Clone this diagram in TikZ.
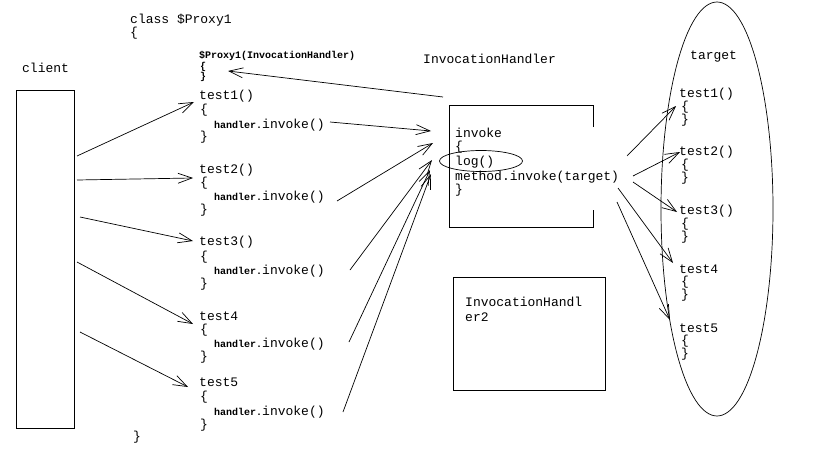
\documentclass[tikz,border=0pt]{standalone}
\usepackage{fontspec}
\setmonofont{Liberation Mono}
\usetikzlibrary{arrows.meta,shapes.geometric}
\begin{document}
\begin{tikzpicture}[x=1pt,y=-1pt,
  txt/.style={anchor=west,inner sep=0pt,font=\fontsize{13}{13}\selectfont\ttfamily},
  sml/.style={anchor=west,inner sep=0pt,font=\fontsize{10}{10}\selectfont\ttfamily\bfseries},
  arr/.style={-{Straight Barb[length=14pt,width=10pt]},line width=0.7pt},
  ln/.style={line width=0.7pt}]
\useasboundingbox (0,0) rectangle (820,455);
% client
\node[txt] (clientlbl) at (22,68) {client};
\node[draw,ln,minimum width=58,minimum height=338,inner sep=0pt,anchor=north west] (client) at (16,90) {};
% class $Proxy1
\node[txt] (cls) at (130,20) {class \$Proxy1};
\node[txt] (clso) at (130,33) {\{};
\node[txt] (clsc) at (133,437) {\}};
\node[sml] (ctor) at (199,56) {\$Proxy1(InvocationHandler)};
\node[sml] (ctoro) at (200,67) {\{};
\node[sml] (ctorc) at (200,77) {\}};
\foreach \i/\nm/\ya/\yb/\yc/\yd in {1/test1()/96/110/125/137,2/test2()/170/183/197/210,3/test3()/242/257/271/284,4/test4/316/330/344/357,5/test5/382/397/412/425}{
  \node[txt] (t\i) at (199,\ya) {\nm};
  \node[txt] (to\i) at (200,\yb) {\{};
  \node[txt] (h\i) at (214,\yc) {{\fontsize{10}{10}\selectfont\bfseries handler.}invoke()};
  \node[txt] (tc\i) at (200,\yd) {\}};
}
% InvocationHandler
\node[txt] (ihl) at (423,59) {InvocationHandler};
\coordinate (ihA) at (593,127);
\coordinate (ihB) at (593,105);
\coordinate (ihC) at (449,105);
\coordinate (ihD) at (449,227);
\coordinate (ihE) at (593,227);
\coordinate (ihF) at (593,210);
\draw[ln] (ihA) -- (ihB) -- (ihC) -- (ihD) -- (ihE) -- (ihF);
\node[txt] (inv) at (455,133) {invoke};
\node[txt] (invo) at (455,147) {\{};
\node[txt] (log) at (455,162) {log()};
\node[draw,ln,ellipse,minimum width=83,minimum height=21,inner sep=0pt] (logell) at (481,161) {};
\node[txt] (mi) at (455,177) {method.invoke(target)};
\node[txt] (invc) at (455,190) {\}};
% InvocationHandler2
\node[draw,ln,minimum width=152,minimum height=113,inner sep=0pt,anchor=north west] (ih2) at (453,277) {};
\node[txt] (ih2a) at (465,302) {InvocationHandl};
\node[txt] (ih2b) at (465,317) {er2};
% target
\node[draw,ln,ellipse,minimum width=112,minimum height=414,inner sep=0pt] (target) at (717,209) {};
\node[txt] (tgl) at (690,57) {target};
\foreach \i/\nm/\ya in {1/test1()/94,2/test2()/152,3/test3()/211,4/test4/269,5/test5/328}{
  \node[txt] (g\i) at (679,\ya) {\nm};
  \node[txt] (go\i) at (681,\ya+13) {\{};
  \node[txt] (gc\i) at (681,\ya+26) {\}};
}
% connector end points
\coordinate (cs1) at (77,156);  \coordinate (ce1) at (194,102);
\coordinate (cs2) at (77,180);  \coordinate (ce2) at (193,178);
\coordinate (cs3) at (80,217);  \coordinate (ce3) at (193,241);
\coordinate (cs4) at (77,262);  \coordinate (ce4) at (193,324);
\coordinate (cs5) at (80,332);  \coordinate (ce5) at (188,387);
\coordinate (hs1) at (330,122); \coordinate (he1) at (431,131);
\coordinate (hs2) at (337,201); \coordinate (he2) at (433,143);
\coordinate (hs3) at (350,270); \coordinate (he3) at (432,160);
\coordinate (hs4) at (349,342); \coordinate (he4) at (430,170);
\coordinate (hs5) at (343,412); \coordinate (he5) at (431,174);
\coordinate (ms1) at (627,156); \coordinate (me1) at (676,106);
\coordinate (ms2) at (633,176); \coordinate (me2) at (680,152);
\coordinate (ms3) at (633,182); \coordinate (me3) at (677,212);
\coordinate (ms4) at (618,188); \coordinate (me4) at (673,263);
\coordinate (ms5) at (617,202); \coordinate (me5) at (670,320);
\coordinate (ps) at (443,97);   \coordinate (pe) at (228,71);
\foreach \i in {1,...,5}{
  \draw[arr] (cs\i) -- (ce\i);
  \draw[arr] (hs\i) -- (he\i);
  \draw[arr] (ms\i) -- (me\i);
}
\draw[arr] (ps) -- (pe);
\end{tikzpicture}
\end{document}
